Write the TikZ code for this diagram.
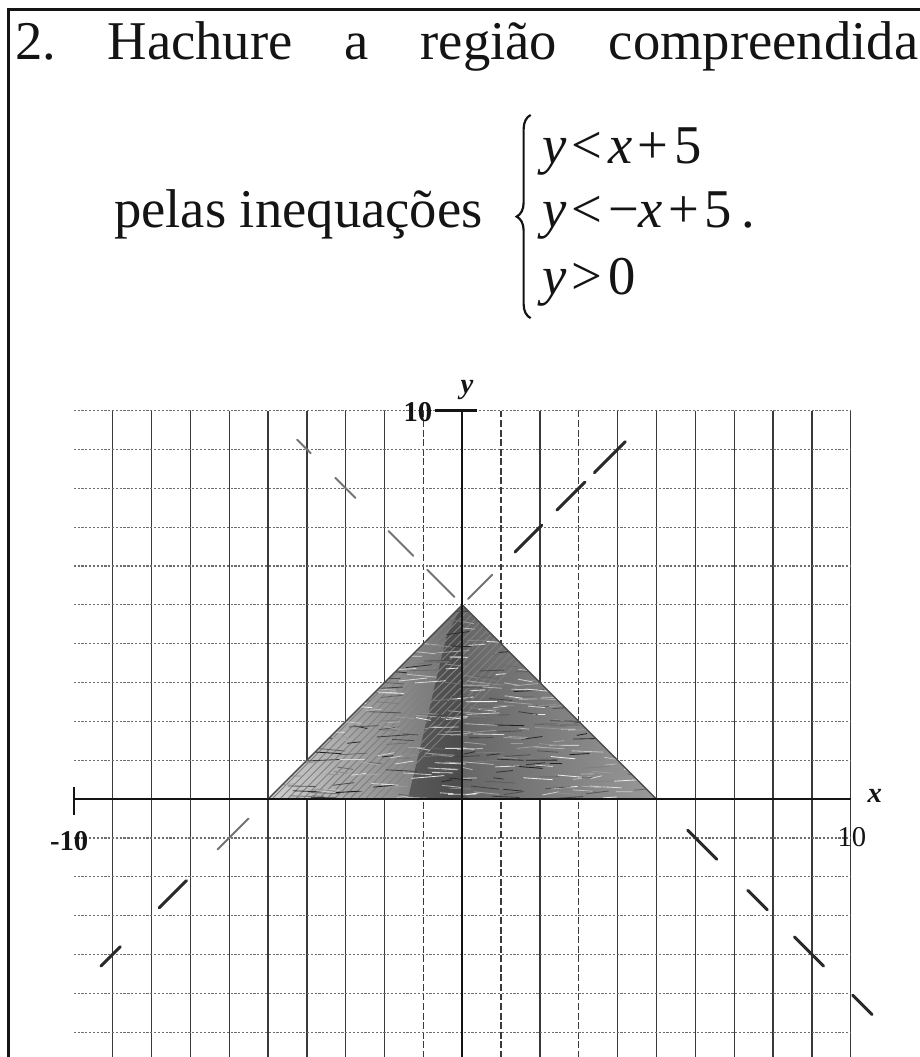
\documentclass[tikz,border=0pt]{standalone}
\usepackage{fontspec}
\setmainfont{Liberation Serif}
\usetikzlibrary{calc}
\usetikzlibrary{decorations.pathreplacing}
\definecolor{hqink}{HTML}{141414}
\definecolor{hqgrid}{HTML}{3A3A3A}
\definecolor{hqdots}{HTML}{6E6E6E}
\definecolor{hqpencil}{HTML}{2A2A2A}
\newcommand{\hqgap}{\kern0.1em}
\tikzset{
  hqframe/.style={draw=hqink, line width=2.2pt},
  hqvline/.style={draw=hqgrid, line width=1pt},
  hqvdash/.style={hqvline, dash pattern=on 5pt off 2pt},
  hqhline/.style={draw=hqdots, line width=0.9pt, dash pattern=on 1.6pt off 1.2pt},
  hqaxis/.style={draw=hqink, line width=1.8pt},
  hqlabel/.style={font=\fontsize{21}{25}\selectfont\bfseries, text=hqink,
    inner sep=0pt},
  hqvar/.style={hqlabel, font=\fontsize{21}{25}\selectfont\bfseries\itshape},
  hqtext/.style={font=\fontsize{40}{48}\selectfont, text=hqink, inner sep=0pt,
    anchor=base west},
  hqbrace/.style={draw=hqink, line width=1.6pt,
    decorate, decoration={brace, amplitude=0.36cm, aspect=0.5}},
  hqdash/.style={draw=hqpencil, line width=2.2pt, line cap=round},
  hqfaint/.style={hqdash, draw=black!55, line width=1.4pt},
}

\begin{document}
\begin{tikzpicture}[x=1cm, y=1cm]
\useasboundingbox (-11.90,-6.64) rectangle (11.78,20.57);

% Frame.
\draw[hqframe] (-11.68,-6.9) -- (-11.68,20.33) -- (11.95,20.33);

% Statement.
\node[hqtext] (title) at (-11.52,19.05)
  {\frenchspacing\makebox[23.25cm][s]{2. Hachure a região compreendida}};
\node[hqtext] (pelas) at (-8.97,14.72) {pelas inequações};
\node[hqtext] (row1) at (2.05,16.37)
  {\textit{y}\hqgap<\hqgap\textit{x}\hqgap+\hqgap5};
\node[hqtext] (row2) at (2.05,14.72)
  {\textit{y}\hqgap<\hqgap−\textit{x}\hqgap+\hqgap5\,.};
\node[hqtext] (row3) at (2.05,13.00)
  {\textit{y}\hqgap>\hqgap0};
\coordinate (bracebot) at (1.76,12.38);
\coordinate (bracetop) at (1.76,17.61);
\draw[hqbrace] (bracebot) -- (bracetop);

% Grid.
\foreach \gx in {-9,...,-2,2,4,5,6,7,8,9,10}
  \draw[hqvline] (\gx,10) -- (\gx,-6.9);
\foreach \gx in {-1,1,3}
  \draw[hqvdash] (\gx,10) -- (\gx,-6.9);
\foreach \gy in {-6,...,10}
  \draw[hqhline] (-10,\gy) -- (10,\gy);

% Shaded region.
\begin{scope}
  \clip (-5,0) -- (0,5) -- (5,0) -- cycle;
  \shade[left color=black!18, right color=black!58] (-5,0) rectangle (0,5);
  \shade[left color=black!60, right color=black!40] (0,0) rectangle (5,5);
  \fill[black!80, opacity=0.55] (-1.4,0) -- (-0.4,4.2) -- (0,5) -- (0,0) -- cycle;
  \foreach \d in {0.1,0.3,...,3.0}
    \draw[black!50, line width=0.7pt] (-5+\d,0) -- ++(5,5);
  \pgfmathsetseed{11}
  \foreach \k in {1,...,520} {
    \pgfmathsetmacro{\sx}{-5.5+10*rnd}
    \pgfmathsetmacro{\sy}{4.9*rnd}
    \pgfmathsetmacro{\sl}{0.25+0.6*rnd}
    \pgfmathsetmacro{\sc}{int(5+85*rnd)}
    \draw[draw=black!\sc, line width=0.6pt] (\sx,\sy) -- ++(\sl,0.08*rand);
  }
\end{scope}
\draw[black!70, line width=1pt] (-5,0) -- (0,5) -- (5,0);

% Axes.
\draw[hqaxis] (-10,0) -- (10,0);
\draw[hqaxis] (0,10) -- (0,-6.9);
\draw[hqaxis] (-10,0.3) -- (-10,-0.4);
\draw[hqaxis] (-0.7,10) -- (0.38,10);
\node[hqvar] (ylab) at (0.12,10.53) {y};
\node[hqvar] (xlab) at (10.62,0.08) {x};
\node[hqlabel] (ytop) at (-1.14,9.95) {10};
\node[hqlabel] (xleft) at (-10.12,-1.08) {-10};
\node[hqlabel, font=\fontsize{21}{25}\selectfont] (xright) at (10.03,-0.98) {10};

% Pencil lines y = x + 5 and y = -x + 5.
\foreach \a/\b in {-4.25/-3.9, -3.27/-2.75, -1.9/-1.26, -0.9/-0.2}
  \draw[hqfaint] (\a,{5-(\a)}) -- (\b,{5-(\b)});
\foreach \a/\b in {5.8/6.55, 7.35/7.85, 8.55/9.3, 10.05/10.55}
  \draw[hqdash] (\a,{5-(\a)}) -- (\b,{5-(\b)});
\draw[hqfaint] (0.15,5.15) -- (0.77,5.77);
\foreach \a/\b in {1.36/2.05, 2.44/3.16, 3.4/4.2}
  \draw[hqdash] (\a,{\a+5}) -- (\b,{\b+5});
\foreach \a/\b in {-9.3/-8.8, -7.8/-7.1}
  \draw[hqdash] (\a,{\a+5}) -- (\b,{\b+5});
\draw[hqfaint] (-6.3,-1.3) -- (-5.5,-0.5);

\end{tikzpicture}
\end{document}
